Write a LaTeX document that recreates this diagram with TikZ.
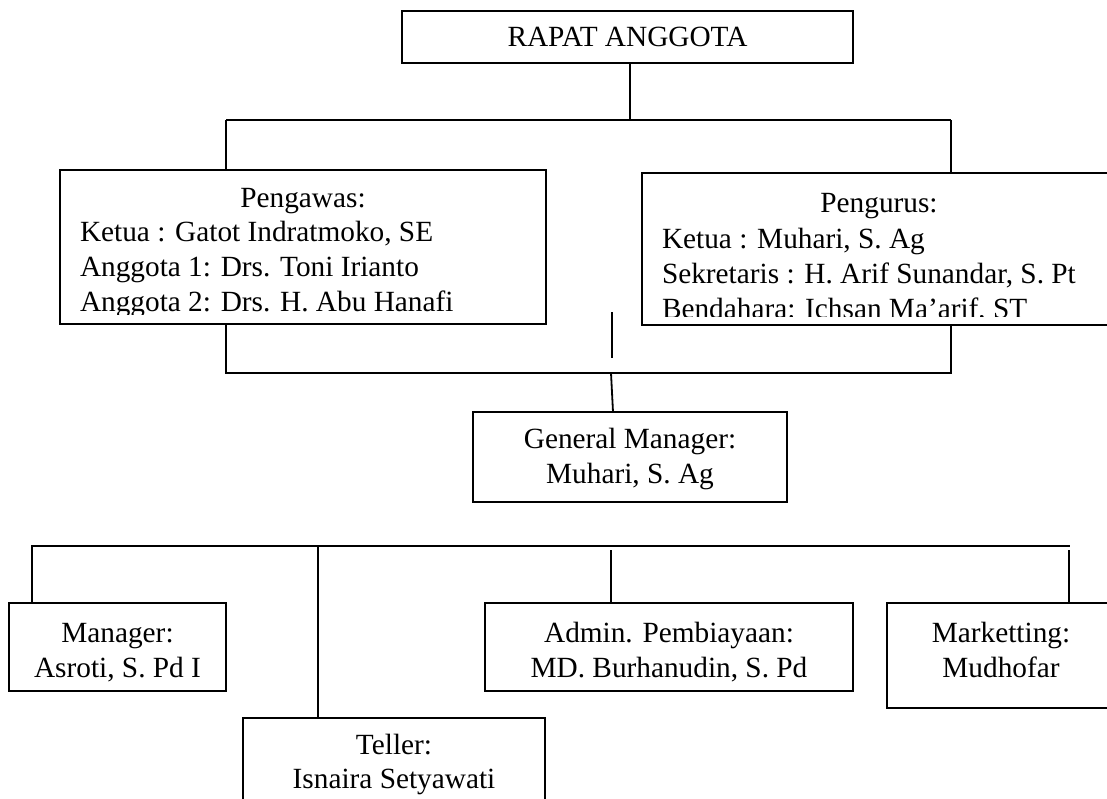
\documentclass[tikz,border=0pt]{standalone}
\usepackage{fontspec}
\setmainfont{Liberation Serif}
\begin{document}
\begin{tikzpicture}[x=1pt,y=-1pt,
  box/.style={draw=black, line width=1.8pt, inner sep=0pt, outer sep=0pt, fill=none},
  txt/.style={inner sep=0pt, outer sep=0pt, font=\fontsize{29.3}{35}\selectfont},
  conn/.style={draw=black, line width=1.8pt}]
\useasboundingbox (0,0) rectangle (1107,798);
\clip (0,0) rectangle (1107,798);

% boxes
\node[box, minimum width=451pt, minimum height=52pt] (top) at (627.5,37) {};
\node[box, minimum width=486pt, minimum height=154pt] (pengawas) at (303,247) {};
\node[box, minimum width=474pt, minimum height=152pt] (pengurus) at (879,249) {};
\node[box, minimum width=314pt, minimum height=90pt] (gm) at (630,457) {};
\node[box, minimum width=217pt, minimum height=88pt] (manager) at (117.5,647) {};
\node[box, minimum width=368pt, minimum height=88pt] (admin) at (669,647) {};
\node[box, minimum width=228pt, minimum height=105pt] (mkt) at (1001,655.5) {};
\node[box, minimum width=302pt, minimum height=112pt] (teller) at (394,774) {};

% texts
\node[txt, anchor=base] (ttop) at (627.5,46) {RAPAT ANGGOTA};
\begin{scope}
\clip (60,170) rectangle (546,314);
\node[txt, anchor=base] (tpw0) at (303,207) {Pengawas:};
\node[txt, anchor=base west] (tpw1) at (80,241) {Ketua : Gatot Indratmoko, SE};
\node[txt, anchor=base west] (tpw2) at (80,276) {Anggota 1: Drs. Toni Irianto};
\node[txt, anchor=base west] (tpw3) at (80,311) {Anggota 2: Drs. H. Abu Hanafi};
\end{scope}
\begin{scope}
\clip (642,173) rectangle (1116,316);
\node[txt, anchor=base] (tpu0) at (879,212) {Pengurus:};
\node[txt, anchor=base west] (tpu1) at (662,248) {Ketua : Muhari, S. Ag};
\node[txt, anchor=base west] (tpu2) at (662,283) {Sekretaris : H. Arif Sunandar, S. Pt};
\node[txt, anchor=base west] (tpu3) at (662,318) {Bendahara: Ichsan Ma’arif, ST};
\end{scope}
\node[txt, anchor=base] (tgm1) at (630,448) {General Manager:};
\node[txt, anchor=base] (tgm2) at (630,483) {Muhari, S. Ag};
\node[txt, anchor=base] (tma1) at (117.5,642) {Manager:};
\node[txt, anchor=base] (tma2) at (117.5,677) {Asroti, S. Pd I};
\node[txt, anchor=base] (tad1) at (669,642) {Admin. Pembiayaan:};
\node[txt, anchor=base] (tad2) at (669,677) {MD. Burhanudin, S. Pd};
\node[txt, anchor=base] (tmk1) at (1001,642) {Marketting:};
\node[txt, anchor=base] (tmk2) at (1001,677) {Mudhofar};
\node[txt, anchor=base] (tte1) at (394,754) {Teller:};
\node[txt, anchor=base] (tte2) at (394,788) {Isnaira Setyawati};

% junction coordinates
\coordinate (j0) at (630,120);
\coordinate (jL) at (226,120);
\coordinate (jR) at (951,120);
\coordinate (kL) at (226,373);
\coordinate (kR) at (951,373);
\coordinate (kM) at (611,373);
\coordinate (g1) at (613,412);
\coordinate (s1) at (612,312);
\coordinate (s2) at (612,358);
\coordinate (b0) at (32,546);
\coordinate (b1) at (318,546);
\coordinate (b2) at (611,550);
\coordinate (b3) at (1069,550);
\coordinate (bE) at (1070,546);

% connectors
\draw[conn] (top.south -| j0) -- (j0);
\draw[conn] (jL) -- (jR);
\draw[conn] (jL) -- (pengawas.north -| jL);
\draw[conn] (jR) -- (pengurus.north -| jR);
\draw[conn] (pengawas.south -| kL) -- (kL) -- (kR) -- (pengurus.south -| kR);
\draw[conn] (s1) -- (s2);
\draw[conn] (kM) -- (gm.north -| g1);
\draw[conn] (manager.north -| b0) -- (b0) -- (bE);
\draw[conn] (b1) -- (teller.north -| b1);
\draw[conn] (b2) -- (admin.north -| b2);
\draw[conn] (b3) -- (mkt.north -| b3);
\end{tikzpicture}
\end{document}
